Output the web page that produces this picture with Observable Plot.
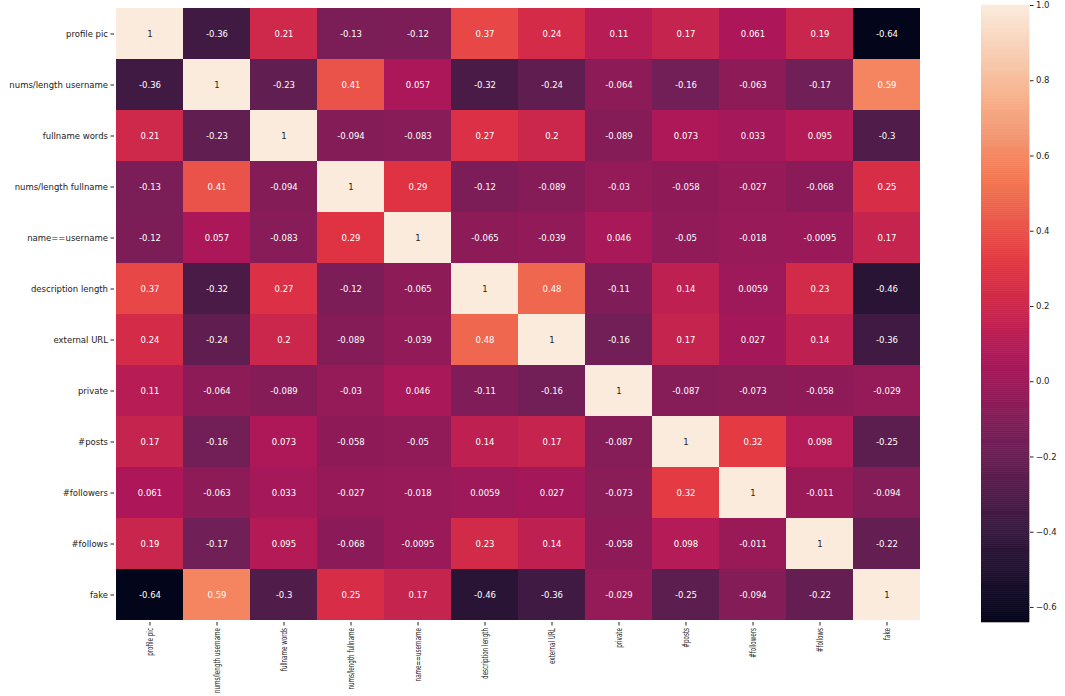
<!DOCTYPE html>
<html>
<head>
<meta charset="utf-8">
<script src="https://cdn.jsdelivr.net/npm/d3@7"></script>
<script src="https://cdn.jsdelivr.net/npm/@observablehq/plot@0.6"></script>
<style>
  html, body { margin: 0; padding: 0; background: #fff; }
  #wrap { position: relative; width: 1065px; height: 696px; font-family: "DejaVu Sans", sans-serif; }
  #wrap > div, #wrap > svg { position: absolute; }
</style>
</head>
<body>
<div id="wrap"></div>
<script>
const labels = ["profile pic", "nums/length username", "fullname words", "nums/length fullname",
  "name==username", "description length", "external URL", "private", "#posts", "#followers",
  "#follows", "fake"];

const corr = [
  [1, -0.36, 0.21, -0.13, -0.12, 0.37, 0.24, 0.11, 0.17, 0.061, 0.19, -0.64],
  [-0.36, 1, -0.23, 0.41, 0.057, -0.32, -0.24, -0.064, -0.16, -0.063, -0.17, 0.59],
  [0.21, -0.23, 1, -0.094, -0.083, 0.27, 0.2, -0.089, 0.073, 0.033, 0.095, -0.3],
  [-0.13, 0.41, -0.094, 1, 0.29, -0.12, -0.089, -0.03, -0.058, -0.027, -0.068, 0.25],
  [-0.12, 0.057, -0.083, 0.29, 1, -0.065, -0.039, 0.046, -0.05, -0.018, -0.0095, 0.17],
  [0.37, -0.32, 0.27, -0.12, -0.065, 1, 0.48, -0.11, 0.14, 0.0059, 0.23, -0.46],
  [0.24, -0.24, 0.2, -0.089, -0.039, 0.48, 1, -0.16, 0.17, 0.027, 0.14, -0.36],
  [0.11, -0.064, -0.089, -0.03, 0.046, -0.11, -0.16, 1, -0.087, -0.073, -0.058, -0.029],
  [0.17, -0.16, 0.073, -0.058, -0.05, 0.14, 0.17, -0.087, 1, 0.32, 0.098, -0.25],
  [0.061, -0.063, 0.033, -0.027, -0.018, 0.0059, 0.027, -0.073, 0.32, 1, -0.011, -0.094],
  [0.19, -0.17, 0.095, -0.068, -0.0095, 0.23, 0.14, -0.058, 0.098, -0.011, 1, -0.22],
  [-0.64, 0.59, -0.3, 0.25, 0.17, -0.46, -0.36, -0.029, -0.25, -0.094, -0.22, 1]
];

const colorbarTicks = [-0.6, -0.4, -0.2, 0.0, 0.2, 0.4, 0.6, 0.8, 1.0];
const vmin = -0.64, vmax = 1;

// seaborn "rocket" colormap approximation
const rocketStops = ["#03051a", "#35193e", "#701f57", "#ad1759", "#e13342", "#f37651", "#f6b48f", "#faebdd"];
const rocketPos = [0, 1/7, 2/7, 3/7, 4/7, 5/7, 6/7, 1];
const rocketScale = d3.scaleLinear().domain(rocketPos).range(rocketStops).interpolate(d3.interpolateRgb);
const rocket = t => rocketScale(Math.max(0, Math.min(1, t)));

const cells = [];
corr.forEach((row, i) => row.forEach((v, j) => cells.push({row: labels[i], col: labels[j], v})));

const fmt = d3.format(".2~g");
const annot = v => fmt(v).replace("\u2212", "-");

const colorOpts = {type: "linear", domain: [vmin, vmax], interpolate: rocket};

const main = Plot.plot({
  width: 1065,
  height: 696,
  marginLeft: 114,
  marginRight: 144,
  marginTop: 5,
  marginBottom: 74,
  style: {fontFamily: "DejaVu Sans, sans-serif", fontSize: "8.5px", color: "#222", background: "transparent"},
  x: {domain: labels, padding: 0, label: null, tickRotate: -90, tickSize: 3.5, tickPadding: 2},
  y: {domain: labels, padding: 0, label: null, tickSize: 3.5, tickPadding: 3},
  color: colorOpts,
  marks: [
    Plot.cell(cells, {x: "col", y: "row", fill: "v", inset: 0}),
    Plot.text(cells, {x: "col", y: "row", text: d => annot(d.v),
      fill: d => d.v > 0.8 ? "#262626" : "#ffffff", fontSize: 8.5})
  ]
});

const bar = d3.range(0, 300).map(i => {
  const a = vmin + (vmax - vmin) * i / 300;
  const b = vmin + (vmax - vmin) * (i + 1) / 300;
  return {y1: a, y2: b, v: (a + b) / 2};
});

const cbar = Plot.plot({
  width: 90,
  height: 696,
  marginLeft: 0,
  marginRight: 42,
  marginTop: 5,
  marginBottom: 74,
  style: {fontFamily: "DejaVu Sans, sans-serif", fontSize: "8.5px", color: "#222", background: "transparent"},
  x: {axis: null, domain: [0, 1]},
  y: {domain: [vmin, vmax], axis: "right", ticks: colorbarTicks, tickFormat: d3.format(".1f"),
      label: null, tickSize: 3.5, tickPadding: 3},
  color: colorOpts,
  marks: [
    Plot.rect(bar, {x1: 0, x2: 1, y1: "y1", y2: "y2", fill: "v", stroke: "v", strokeWidth: 0.6})
  ]
});

const wrap = document.getElementById("wrap");
main.style.left = "0px"; main.style.top = "0px";
cbar.style.left = "981px"; cbar.style.top = "0px";
wrap.appendChild(main);
wrap.appendChild(cbar);

// condense the rotated x tick labels so they fit under the chart, as in the reference
const xTexts = main.querySelectorAll('g[aria-label="x-axis tick label"] text, g[aria-label="x-axis"] text');
xTexts.forEach(t => {
  const len = t.getComputedTextLength();
  t.setAttribute("textLength", (len * 0.66).toFixed(1));
  t.setAttribute("lengthAdjust", "spacingAndGlyphs");
});
</script>
</body>
</html>
